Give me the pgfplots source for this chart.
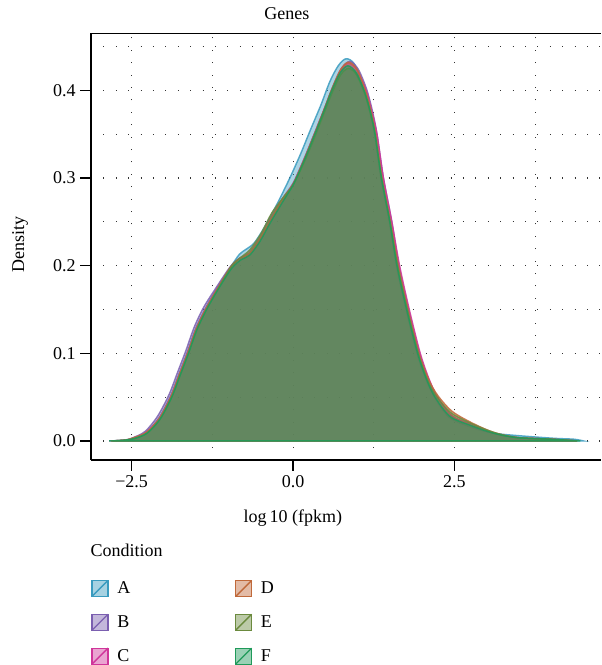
\documentclass[border=0pt]{standalone}
\usepackage{fontspec}
\setmainfont{Liberation Serif}
\usepackage{pgfplots}
\pgfplotsset{compat=1.18}

\definecolor{cA}{HTML}{3A9BBF}
\definecolor{cB}{HTML}{7B5FB0}
\definecolor{cC}{HTML}{D0359A}
\definecolor{cD}{HTML}{C0693A}
\definecolor{cE}{HTML}{6B8A3E}
\definecolor{cF}{HTML}{1F9A5A}

\pgfplotsset{
  dens/.style={draw=#1, fill=#1, fill opacity=0.42, draw opacity=0.85, line width=1.1pt, smooth, tension=0.5},
  swatch/.style={draw=#1, fill=#1, fill opacity=0.45, line width=1pt,
    legend image code/.code={\draw[##1] (0pt,-6pt) rectangle (12pt,6pt); \draw[##1] (0pt,-6pt) -- (12pt,6pt); \path[draw=none,fill=none] (12pt,0pt) -- (17pt,0pt);}},
}

\begin{document}
\begin{tikzpicture}[font=\fontsize{13.5}{16}\selectfont]
\begin{axis}[
    scale only axis,
    width=382.5pt, height=320pt,
    xmin=-3.13, xmax=4.77,
    ymin=-0.0217, ymax=0.465,
    axis lines*=left,
    axis line style={line width=0.9pt},
    xtick={-2.5,0,2.5},
    xticklabels={−2.5, 0.0, 2.5},
    ytick={0,0.1,0.2,0.3,0.4},
    yticklabel style={/pgf/number format/.cd, fixed, fixed zerofill, precision=1},
    /pgf/number format/assume math mode=true,
    minor xtick={-1.25,1.25,3.75},
    minor ytick={0.05,0.15,0.25,0.35,0.45},
    grid=both,
    major grid style={line width=0.8pt, black!80, dash pattern=on 0.8pt off 8.5pt},
    minor grid style={line width=0.8pt, black!80, dash pattern=on 0.8pt off 8.5pt},
    tick align=outside,
    major tick length=8pt,
    minor tick length=0pt,
    tick style={line width=0.9pt, black},
    title={Genes},
    title style={at={(axis description cs:0.384,1.013)}, anchor=base},
    xlabel={log\,10 (fpkm)},
    xlabel style={at={(axis description cs:0.396,-0.136)}, anchor=center},
    ylabel={Density},
    ylabel style={at={(axis description cs:-0.139,0.504)}, anchor=center},
    legend columns=2,
    legend cell align=left,
    legend style={draw=none, fill=none, inner sep=0pt,
      at={(axis description cs:0.0,-0.278)}, anchor=north west,
      row sep=11pt,
      /tikz/every even column/.append style={column sep=76.5pt}},
]

% A
\addplot[dens=cA, forget plot] coordinates {
(-2.8,0) (-2.6,0.001) (-2.45,0.003) (-2.28,0.009) (-2.08,0.026) (-1.9,0.051) (-1.77,0.076) (-1.64,0.101) (-1.51,0.128) (-1.36,0.151) (-1.18,0.174) (-0.97,0.198) (-0.83,0.213) (-0.72,0.219) (-0.6,0.226) (-0.45,0.243) (-0.25,0.27) (-0.05,0.3) (0.12,0.328) (0.27,0.355) (0.43,0.383) (0.57,0.41) (0.7,0.428) (0.82,0.436) (0.95,0.43) (1.08,0.405) (1.18,0.378) (1.26,0.35) (1.36,0.3) (1.49,0.25) (1.6,0.2) (1.75,0.15) (1.92,0.1) (2.06,0.07) (2.19,0.05) (2.42,0.027) (2.75,0.016) (3.1,0.009) (3.5,0.006) (4.05,0.003) (4.35,0.002) (4.5,0)
} \closedcycle;
% B
\addplot[dens=cB, forget plot] coordinates {
(-2.85,0) (-2.6,0.001) (-2.47,0.004) (-2.29,0.011) (-2.1,0.028) (-1.92,0.053) (-1.79,0.078) (-1.66,0.103) (-1.53,0.13) (-1.38,0.153) (-1.19,0.175) (-0.97,0.199) (-0.82,0.209) (-0.69,0.214) (-0.53,0.23) (-0.38,0.25) (-0.17,0.276) (0.0,0.294) (0.16,0.32) (0.31,0.347) (0.48,0.378) (0.62,0.405) (0.75,0.425) (0.88,0.433) (1.01,0.424) (1.14,0.401) (1.23,0.376) (1.3,0.35) (1.4,0.3) (1.53,0.25) (1.64,0.2) (1.79,0.15) (1.96,0.1) (2.1,0.07) (2.23,0.05) (2.46,0.028) (2.76,0.018) (3.1,0.009) (3.46,0.004) (4.0,0.002) (4.4,0)
} \closedcycle;
% C
\addplot[dens=cC, forget plot] coordinates {
(-2.82,0) (-2.6,0.001) (-2.46,0.003) (-2.27,0.01) (-2.07,0.026) (-1.89,0.051) (-1.76,0.076) (-1.63,0.101) (-1.5,0.128) (-1.35,0.151) (-1.17,0.174) (-0.96,0.198) (-0.81,0.208) (-0.68,0.213) (-0.52,0.229) (-0.37,0.249) (-0.16,0.275) (0.0,0.293) (0.16,0.319) (0.31,0.346) (0.47,0.376) (0.61,0.402) (0.74,0.423) (0.86,0.431) (0.99,0.423) (1.13,0.4) (1.22,0.376) (1.3,0.35) (1.4,0.3) (1.53,0.25) (1.65,0.2) (1.8,0.15) (1.97,0.1) (2.11,0.07) (2.24,0.05) (2.46,0.029) (2.76,0.019) (3.1,0.009) (3.46,0.004) (4.0,0.002) (4.4,0)
} \closedcycle;
% D
\addplot[dens=cD, forget plot] coordinates {
(-2.82,0) (-2.6,0.001) (-2.46,0.004) (-2.27,0.01) (-2.07,0.026) (-1.89,0.051) (-1.76,0.076) (-1.63,0.101) (-1.5,0.128) (-1.35,0.151) (-1.17,0.174) (-0.96,0.199) (-0.81,0.209) (-0.68,0.214) (-0.52,0.23) (-0.37,0.25) (-0.16,0.276) (0.0,0.293) (0.16,0.319) (0.31,0.346) (0.47,0.376) (0.61,0.403) (0.74,0.424) (0.86,0.432) (0.99,0.424) (1.12,0.4) (1.21,0.376) (1.28,0.35) (1.38,0.3) (1.51,0.25) (1.63,0.2) (1.78,0.15) (1.95,0.1) (2.1,0.07) (2.24,0.052) (2.46,0.034) (2.76,0.021) (3.1,0.01) (3.46,0.004) (4.0,0.002) (4.4,0)
} \closedcycle;
% E
\addplot[dens=cE, forget plot] coordinates {
(-2.8,0) (-2.6,0.001) (-2.45,0.003) (-2.26,0.009) (-2.06,0.025) (-1.88,0.05) (-1.75,0.075) (-1.62,0.1) (-1.49,0.127) (-1.34,0.15) (-1.16,0.174) (-0.95,0.2) (-0.8,0.21) (-0.67,0.218) (-0.5,0.236) (-0.33,0.26) (-0.15,0.278) (0.0,0.292) (0.16,0.316) (0.31,0.342) (0.47,0.372) (0.61,0.398) (0.74,0.418) (0.86,0.425) (0.98,0.418) (1.11,0.396) (1.2,0.373) (1.27,0.35) (1.37,0.3) (1.5,0.25) (1.62,0.2) (1.77,0.15) (1.94,0.1) (2.08,0.07) (2.22,0.051) (2.45,0.032) (2.76,0.02) (3.1,0.01) (3.46,0.004) (4.0,0.002) (4.4,0)
} \closedcycle;
% F
\addplot[dens=cF, forget plot] coordinates {
(-2.85,0) (-2.6,0.001) (-2.45,0.003) (-2.26,0.009) (-2.06,0.025) (-1.88,0.05) (-1.75,0.075) (-1.62,0.1) (-1.49,0.127) (-1.34,0.15) (-1.16,0.173) (-0.95,0.197) (-0.8,0.207) (-0.67,0.212) (-0.51,0.228) (-0.36,0.248) (-0.15,0.274) (0.0,0.292) (0.16,0.318) (0.31,0.345) (0.47,0.375) (0.6,0.4) (0.73,0.42) (0.85,0.428) (0.98,0.42) (1.11,0.398) (1.2,0.375) (1.27,0.35) (1.37,0.3) (1.5,0.25) (1.61,0.2) (1.76,0.15) (1.93,0.1) (2.07,0.07) (2.2,0.05) (2.43,0.028) (2.74,0.018) (3.1,0.009) (3.46,0.004) (4.0,0.002) (4.45,0)
} \closedcycle;

\addlegendimage{swatch=cA}\addlegendentry{A}
\addlegendimage{swatch=cD}\addlegendentry{D}
\addlegendimage{swatch=cB}\addlegendentry{B}
\addlegendimage{swatch=cE}\addlegendentry{E}
\addlegendimage{swatch=cC}\addlegendentry{C}
\addlegendimage{swatch=cF}\addlegendentry{F}
\end{axis}
\draw[line width=0.9pt] (current axis.north west) -- (current axis.north east);
\node[anchor=west, inner sep=0pt] at ([shift={(-0.5pt,-67.5pt)}]current axis.south west) {Condition};
\pgfresetboundingbox
\useasboundingbox ([shift={(-68.25pt,-153.75pt)}]current axis.south west) rectangle ([shift={(382.5pt,345pt)}]current axis.south west);
\end{tikzpicture}
\end{document}
